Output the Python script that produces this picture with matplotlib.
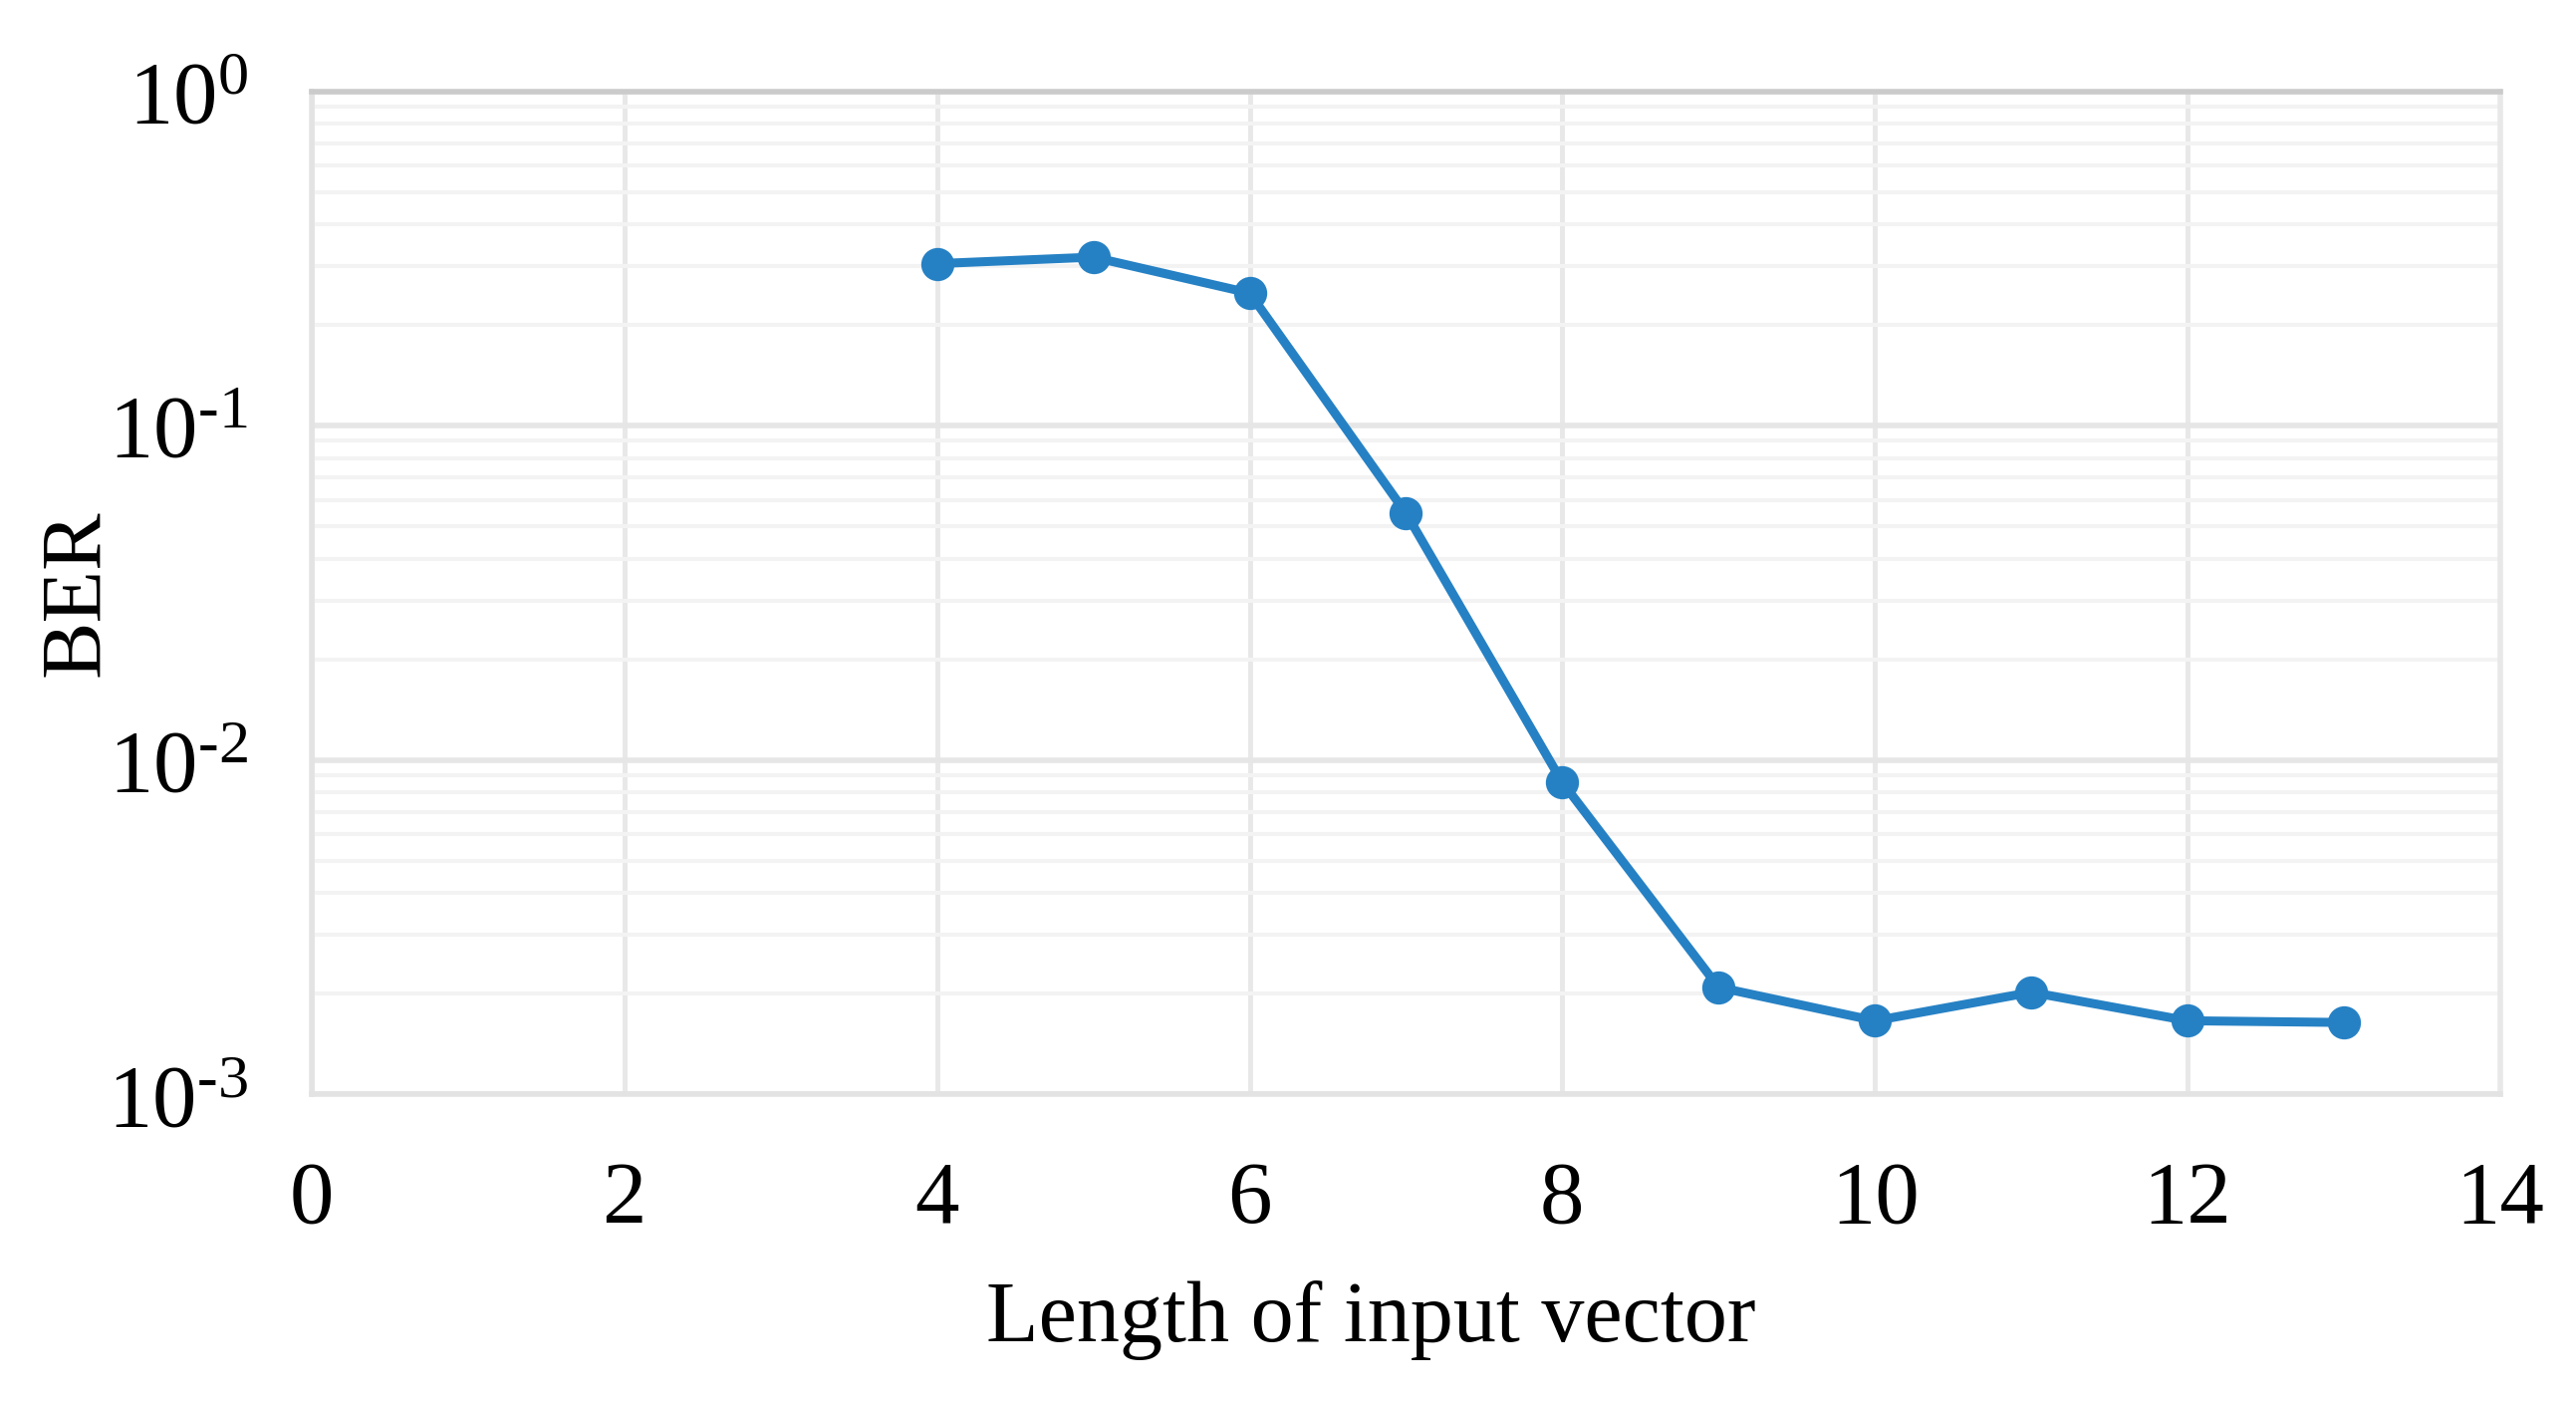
import matplotlib
matplotlib.use("Agg")
import matplotlib.pyplot as plt
from matplotlib.ticker import LogLocator, FixedLocator, NullFormatter

lengths = [4, 5, 6, 7, 8, 9, 10, 11, 12, 13]
ber = [0.305, 0.319, 0.249, 0.0547, 0.00857, 0.00209, 0.00166, 0.00202, 0.00166, 0.00164]
x_ticks = [0, 2, 4, 6, 8, 10, 12, 14]
y_ticks = [1e-3, 1e-2, 1e-1, 1e0]
y_tick_labels = [r"$\mathregular{10^{\text{-}3}}$", r"$\mathregular{10^{\text{-}2}}$",
                 r"$\mathregular{10^{\text{-}1}}$", r"$\mathregular{10^{0}}$"]

plt.rcParams['font.family'] = ['Liberation Serif', 'DejaVu Serif']
plt.rcParams['mathtext.fontset'] = 'custom'
plt.rcParams['mathtext.rm'] = 'Liberation Serif'
plt.rcParams['mathtext.it'] = 'Liberation Serif:italic'
plt.rcParams['mathtext.bf'] = 'Liberation Serif:bold'

fig = plt.figure(figsize=(25.86, 14.08), dpi=100)
ax = fig.add_axes([0.121, 0.220, 0.8496, 0.715])

ax.set_yscale('log')
ax.set_xlim(0, 14)
ax.set_ylim(1e-3, 1e0)

ax.yaxis.set_major_locator(FixedLocator(y_ticks))
ax.set_yticks(y_ticks)
ax.set_yticklabels(y_tick_labels)
ax.yaxis.set_minor_locator(LogLocator(base=10, subs=range(2, 10)))
ax.yaxis.set_minor_formatter(NullFormatter())
ax.set_xticks(x_ticks)
ax.set_xticklabels([str(v) for v in x_ticks])

ax.grid(True, which='major', axis='x', color='#e8e8e8', linewidth=3.5, zorder=0)
ax.grid(True, which='major', axis='y', color='#e6e6e6', linewidth=4, zorder=0)
ax.grid(True, which='minor', axis='y', color='#f3f3f3', linewidth=3, zorder=0)
ax.set_axisbelow(True)

ax.tick_params(axis='both', which='both', length=0, labelsize=64)
ax.tick_params(axis='x', pad=48)
ax.tick_params(axis='y', pad=46)

for side, col in [('top', '#cbcbcb'), ('left', '#e3e3e3'), ('bottom', '#e3e3e3'), ('right', '#e8e8e8')]:
    ax.spines[side].set_color(col)
    ax.spines[side].set_linewidth(4)

ax.plot(lengths, ber, color='#2681c4', linewidth=6.5, marker='o', markersize=24,
        markeredgewidth=0, zorder=3)

ax.set_xlabel('Length of input vector', fontsize=62)
ax.xaxis.set_label_coords(0.484, -0.186)
ax.set_ylabel('BER', fontsize=62)
ax.yaxis.set_label_coords(-0.0885, 0.5)

fig.savefig('out.png', dpi=100, facecolor='white')
